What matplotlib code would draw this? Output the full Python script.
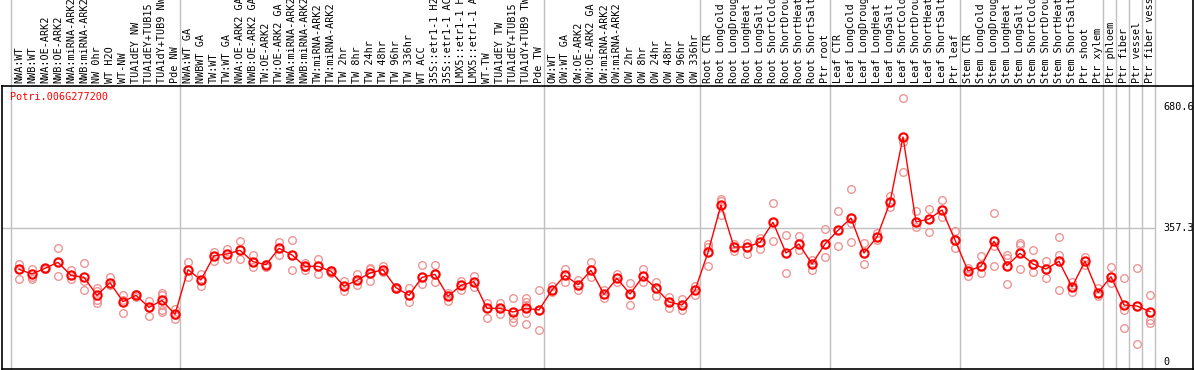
import matplotlib
matplotlib.use('Agg')
import matplotlib.pyplot as plt
from matplotlib.lines import Line2D

# sample names (top axis), in plot order
samples = [
    'NWA:WT', 'NWB:WT', 'NWA:OE-ARK2', 'NWB:OE-ARK2', 'NWA:miRNA-ARK2', 'NWB:miRNA-ARK2',
    'NW 0hr', 'WT H2O', 'WT-NW', 'TUA1dEY NW', 'TUA1dEY+TUB15 NW', 'TUA1dY+TUB9 NW', 'Pde NW',
    'NWA:WT GA', 'NWBWT GA', 'TW:WT', 'TW:WT GA', 'NWA:OE-ARK2 GA', 'NWB:OE-ARK2 GA',
    'TW:OE-ARK2', 'TW:OE-ARK2 GA', 'NWA:miRNA-ARK2 GA', 'NWB:miRNA-ARK2 GA', 'TW:miRNA-ARK2',
    'TW:miRNA-ARK2 GA', 'TW 2hr', 'TW 8hr', 'TW 24hr', 'TW 48hr', 'TW 96hr', 'TW 336hr', 'WT ACC',
    '35S::etr1-1 H2O', '35S::etr1-1 ACC', 'LMX5::etr1-1 H2O', 'LMX5::etr1-1 ACC', 'WT-TW',
    'TUA1dEY TW', 'TUA1dEY+TUB15 TW', 'TUA1dY+TUB9 TW', 'Pde TW',
    'OW:WT', 'OW:WT GA', 'OW:OE-ARK2', 'OW:OE-ARK2 GA', 'OW:miRNA-ARK2', 'OW:miRNA-ARK2 GA',
    'OW 2hr', 'OW 8hr', 'OW 24hr', 'OW 48hr', 'OW 96hr', 'OW 336hr',
    'Root CTR', 'Root LongCold', 'Root LongDrought', 'Root LongHeat', 'Root LongSalt',
    'Root ShortCold', 'Root ShortDrought', 'Root ShortHeat', 'Root ShortSalt', 'Ptr root',
    'Leaf CTR', 'Leaf LongCold', 'Leaf LongDrought', 'Leaf LongHeat', 'Leaf LongSalt',
    'Leaf ShortCold', 'Leaf ShortDrought', 'Leaf ShortHeat', 'Leaf ShortSalt', 'Ptr leaf',
    'Stem CTR', 'Stem LongCold', 'Stem LongDrought', 'Stem LongHeat', 'Stem LongSalt',
    'Stem ShortCold', 'Stem ShortDrought', 'Stem ShortHeat', 'Stem ShortSalt', 'Ptr shoot',
    'Ptr xylem', 'Ptr phloem', 'Ptr fiber', 'Ptr vessel', 'Ptr fiber vessel',
]
group_sizes = [13, 28, 12, 10, 10, 11, 1, 1, 1, 1]

gene = 'Potri.006G277200'
ticks = [0, 357.3, 680.6]

means = [
    247.3, 234.9, 250.0, 266.0, 231.3, 226.0, 177.9, 211.7, 161.0, 177.9, 145.9, 164.6, 127.2,
    246.4, 218.9, 283.8, 288.3, 298.0, 267.8, 259.8, 303.4, 285.6, 255.3, 255.3, 242.0, 202.0,
    218.0, 237.5, 246.4, 198.4, 177.9, 226.0, 234.0, 175.3, 204.6, 214.4, 143.2, 143.2, 133.5,
    143.2, 138.8,
    192.2, 231.3, 206.4, 244.7, 180.6, 223.3, 181.5, 228.6, 196.6, 160.1, 152.1, 191.3,
    292.7, 419.0, 306.9, 306.9, 319.4, 372.8, 290.9, 314.9, 261.6, 314.9,
    351.4, 384.3, 290.9, 333.6, 426.2, 600.5, 373.7, 381.7, 405.7, 325.6,
    242.9, 255.3, 322.1, 257.1, 290.0, 261.6, 248.2, 268.7, 200.2, 268.7, 185.1,
    227.8, 152.1, 149.5, 134.3,
]

reps = [
    [261.6, 247.3, 220.6], [248.2, 227.8, 220.6], [251.8, 249.1, 248.2], [303.4, 266.0, 229.5],
    [244.7, 231.3, 221.5], [264.2, 217.1, 191.3], [196.6, 189.5, 165.5, 156.6],
    [226.0, 211.7, 205.5], [178.8, 165.5, 129.9], [181.5, 177.9, 174.4], [162.8, 147.7, 123.7],
    [185.1, 178.8, 152.1, 138.8, 134.3], [141.5, 125.4, 115.7],
    [266.0, 245.6, 227.8], [235.8, 218.9, 202.0], [294.5, 283.8, 270.5], [302.5, 288.3, 274.9],
    [323.0, 298.0, 274.9], [286.5, 267.8, 254.4], [261.6, 259.8, 252.7], [319.4, 303.4, 284.7],
    [324.7, 285.6, 244.7], [263.3, 254.4, 244.7], [274.0, 255.3, 235.8], [245.6, 242.0, 238.4],
    [216.2, 202.0, 190.4], [234.0, 218.0, 205.5], [251.8, 248.2, 237.5, 215.3],
    [257.1, 246.4, 241.1], [201.1, 198.4, 194.8], [198.4, 177.9, 159.3], [258.0, 226.0, 207.3],
    [258.0, 234.0, 214.4], [185.1, 175.3, 163.7], [217.1, 204.6, 192.2], [229.5, 214.4, 201.1],
    [157.5, 143.2, 118.3], [157.5, 143.2, 127.2], [169.9, 133.5, 116.5, 107.7],
    [169.9, 161.0, 152.1, 143.2, 129.9, 100.5], [193.1, 138.8, 85.4],
    [203.7, 192.2, 185.9], [248.2, 231.3, 214.4], [218.9, 206.4, 193.1], [266.0, 244.7, 226.0],
    [192.2, 180.6, 169.9], [234.9, 223.3, 212.6], [210.0, 181.5, 152.1], [247.3, 228.6, 212.6],
    [212.6, 196.6, 175.3], [173.5, 160.1, 145.0], [169.0, 152.1, 138.8], [203.7, 191.3, 177.9],
    [314.9, 307.8, 292.7, 255.3], [435.1, 430.6, 419.0, 392.3], [314.9, 306.9, 296.3],
    [316.7, 306.9, 287.4], [331.9, 319.4, 301.6], [423.5, 372.8, 323.0], [338.1, 290.9, 237.5],
    [336.3, 314.9, 298.0], [273.1, 261.6, 244.7], [354.1, 314.9, 281.1],
    [402.1, 351.4, 309.6], [461.7, 384.3, 371.9, 319.4], [316.7, 290.9, 261.6],
    [345.2, 333.6, 326.5], [443.1, 426.2, 414.6], [703.7, 600.5, 586.3, 506.2],
    [402.1, 373.7, 359.4], [408.4, 381.7, 346.1], [432.4, 405.7, 387.9], [349.6, 325.6, 303.4],
    [250.0, 242.9, 230.4], [282.9, 255.3, 238.4], [396.8, 322.1, 310.5, 256.2],
    [285.6, 276.7, 257.1, 207.3], [316.7, 312.3, 290.0, 247.3], [298.0, 261.6, 239.3],
    [268.7, 248.2, 223.3], [332.7, 285.6, 268.7, 191.3], [214.4, 200.2, 187.7],
    [280.2, 268.7, 258.9], [197.5, 185.1, 176.2],
    [252.7, 227.8, 210.0], [223.3, 152.1, 138.8, 90.7], [250.9, 149.5, 47.2],
    [177.9, 134.3, 112.1, 104.9],
]

W, H = 1194, 370
fig = plt.figure(figsize=(W / 100, H / 100), dpi=100)
ax = fig.add_axes([2 / W, 1 / H, 1191 / W, 283 / H])

n = len(samples)
xs = list(range(n))
grey = '#c0c0c0'
mono = 'DejaVu Sans Mono'

# separators between groups, running up through the label strip
edges = [0]
for s in group_sizes:
    edges.append(edges[-1] + s)
for e in edges[:-1]:
    ax.axvline(e - 0.615, ymin=0, ymax=369 / 283, color=grey, lw=1, clip_on=False, zorder=0)
ax.axvline(n - 1 + 0.385, ymin=0, ymax=369 / 283, color=grey, lw=1, clip_on=False, zorder=0)
ax.hlines(ticks[1], -1.4, n - 1 + 0.385, color=grey, lw=1, zorder=0)

# replicates
for i, r in enumerate(reps):
    ax.plot([i] * len(r), r, 'o', ms=5.5, mfc='none', mec='#ee9595', mew=1, zorder=2)

ax.plot(xs, means, '-', color='red', lw=1, zorder=3)
ax.plot(xs, means, 'o', ms=6, mfc='none', mec='red', mew=1.5, zorder=4)

ax.set_xlim(-17 / 13, (1193 - 19) / 13)
ax.set_ylim(-18.68, 736.65)

ax.xaxis.tick_top()
ax.set_xticks(xs)
ax.set_xticklabels(samples, rotation=90, fontsize=7.3, family=mono)
ax.tick_params(axis='x', length=0, pad=2)
ax.set_yticks([])
ax.spines['right'].set_visible(False)
for side in ['left', 'top', 'bottom']:
    ax.spines[side].set_linewidth(1.2)
# right border runs the full height of the picture
fig.add_artist(Line2D([1192.5 / W, 1192.5 / W], [0, 1], color='black', lw=1.2))

for t in ticks:
    ax.text(1161 / 1191, t, f'{t:g}', transform=ax.get_yaxis_transform(),
            ha='left', va='center', fontsize=7.3, family=mono)

fig.text(10 / W, 1 - 97 / H, gene, color='red', fontsize=7.3, family=mono, va='center')

fig.savefig('out.png', dpi=100)
